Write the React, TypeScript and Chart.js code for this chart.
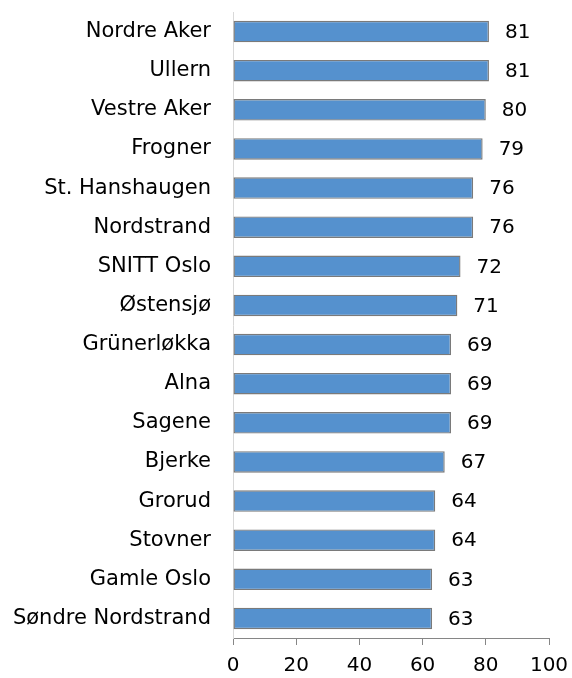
import React, { useEffect, useRef } from "react";
import { Chart, registerables } from "chart.js";

Chart.register(...registerables);

const categories = [
  "Nordre Aker",
  "Ullern",
  "Vestre Aker",
  "Frogner",
  "St. Hanshaugen",
  "Nordstrand",
  "SNITT Oslo",
  "Østensjø",
  "Grünerløkka",
  "Alna",
  "Sagene",
  "Bjerke",
  "Grorud",
  "Stovner",
  "Gamle Oslo",
  "Søndre Nordstrand",
];

const values = [81, 81, 80, 79, 76, 76, 72, 71, 69, 69, 69, 67, 64, 64, 63, 63];

const xMin = 0;
const xMax = 100;
const xStep = 20;

const FONT = "DejaVu Sans";

const valueLabels = {
  id: "valueLabels",
  afterDatasetsDraw(chart: any) {
    const { ctx } = chart;
    const meta = chart.getDatasetMeta(0);
    ctx.save();
    ctx.font = `20px "${FONT}"`;
    ctx.fillStyle = "#000000";
    ctx.textAlign = "left";
    ctx.textBaseline = "middle";
    meta.data.forEach((el: any, i: number) => {
      const v = chart.data.datasets[0].data[i];
      ctx.fillText(String(v), el.x + 16, el.y + 1);
    });
    ctx.restore();
  },
};

export default function App() {
  const ref = useRef<HTMLCanvasElement | null>(null);

  useEffect(() => {
    if (!ref.current) return;
    const chart = new Chart(ref.current, {
      type: "bar",
      data: {
        labels: categories,
        datasets: [
          {
            data: values,
            backgroundColor: "#5591CE",
            borderColor: "#7A7A7A",
            borderWidth: 1.4,
            borderSkipped: false,
            barPercentage: 0.55,
            categoryPercentage: 1,
          },
        ],
      },
      options: {
        indexAxis: "y",
        responsive: false,
        animation: false,
        layout: { padding: { top: 12, right: 23, left: 0, bottom: 0 } },
        plugins: {
          legend: { display: false },
          tooltip: { enabled: false },
        },
        scales: {
          x: {
            min: xMin,
            max: xMax,
            ticks: {
              stepSize: xStep,
              color: "#000000",
              font: { family: FONT, size: 20 },
              padding: 9,
              maxRotation: 0,
            },
            grid: {
              drawOnChartArea: false,
              drawTicks: true,
              tickLength: 7,
              color: "#868686",
            },
            border: { color: "#868686" },
            afterFit(scale: any) {
              scale.height = 40;
              scale.paddingLeft = 0;
              scale.paddingRight = 0;
            },
          },
          y: {
            ticks: {
              color: "#000000",
              font: { family: FONT, size: 21 },
              padding: 22,
              autoSkip: false,
            },
            grid: { drawOnChartArea: false, drawTicks: false },
            border: { color: "#D9D9D9" },
            afterFit(scale: any) {
              scale.width = 233;
              scale.paddingTop = 0;
              scale.paddingBottom = 0;
            },
          },
        },
      },
      plugins: [valueLabels],
    });
    return () => chart.destroy();
  }, []);

  return (
    <div style={{ position: "fixed", left: 0, top: 0, width: 572, height: 678, background: "#fff" }}>
      <canvas ref={ref} width={572} height={678} />
    </div>
  );
}
